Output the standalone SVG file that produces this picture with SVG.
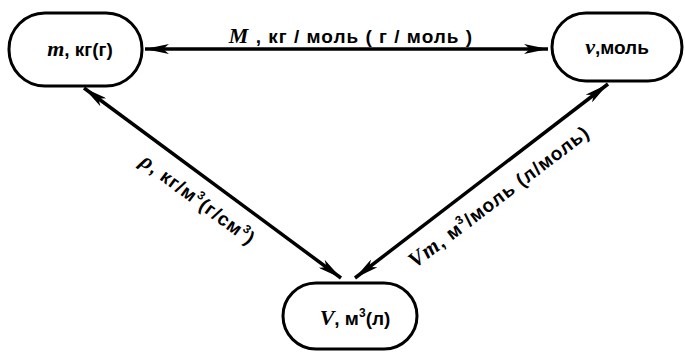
<svg xmlns="http://www.w3.org/2000/svg" width="685" height="353" viewBox="0 0 685 353">
<defs>
<marker id="ah" viewBox="0 0 24 10" refX="24" refY="5" markerWidth="24" markerHeight="10" markerUnits="userSpaceOnUse" orient="auto-start-reverse">
<path d="M0,0 L24,5 L0,10 L6,5 Z" fill="#000"/>
</marker>
</defs>
<style>
.node rect{fill:#fff;stroke:#000;stroke-width:3}
text{font-family:"Liberation Sans","DejaVu Sans",sans-serif;font-weight:bold;font-size:19px;fill:#000}
.it{font-style:italic;font-family:"Liberation Serif",serif;font-size:22px}
.sup{font-size:12px}
.lbl{letter-spacing:1px}
.conn line{stroke:#000;stroke-width:3.5;marker-start:url(#ah);marker-end:url(#ah)}
</style>
<g class="conn" id="connectors">
<line x1="145" y1="49" x2="548" y2="49"/>
<line x1="84" y1="88" x2="341" y2="278"/>
<line x1="608" y1="84" x2="355" y2="278"/>
</g>
<g class="node" id="node-m">
<rect x="9" y="13" width="133" height="73" rx="36"/>
<text x="80" y="56" text-anchor="middle"><tspan class="it">m</tspan>, кг(г)</text>
</g>
<g class="node" id="node-nu">
<rect x="552" y="13" width="130" height="68" rx="34"/>
<text x="617" y="54" text-anchor="middle"><tspan class="it">ν</tspan>,моль</text>
</g>
<g class="node" id="node-V">
<rect x="283" y="283" width="134" height="66" rx="33"/>
<text x="355" y="325" text-anchor="middle"><tspan class="it">V</tspan>, м<tspan class="sup" dy="-8">3</tspan><tspan dy="8">(л)</tspan></text>
</g>
<g id="labels" class="lbl">
<text x="351" y="43" text-anchor="middle"><tspan class="it">M</tspan> , кг / моль ( г / моль )</text>
<text transform="translate(194,205) rotate(36.5)" text-anchor="middle"><tspan class="it">ρ</tspan>, кг/м<tspan class="sup" dy="-8">3</tspan><tspan dy="8">(г/см</tspan><tspan class="sup" dy="-8">3</tspan><tspan dy="8">)</tspan></text>
<text transform="translate(503,202) rotate(-37.2)" text-anchor="middle"><tspan class="it">V</tspan><tspan class="it" font-size="17">m</tspan>, м<tspan class="sup" dy="-8">3</tspan><tspan dy="8">/моль (л/моль)</tspan></text>
</g>
</svg>
